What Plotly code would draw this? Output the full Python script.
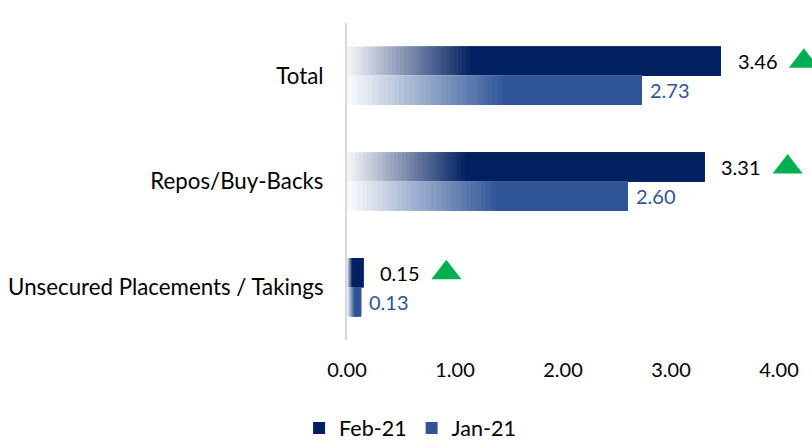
import plotly.graph_objects as go

categories = ["Total", "Repos/Buy-Backs", "Unsecured Placements / Takings"]
feb_values = [3.46, 3.31, 0.15]
jan_values = [2.73, 2.60, 0.13]
series_names = ["Feb-21", "Jan-21"]
x_ticks = [0, 1, 2, 3, 4]

FONT = "Lato"
FEB_COLOR = (0, 32, 96)
JAN_COLOR = (47, 85, 151)
FEB_START = (242, 243, 246)
JAN_START = (248, 249, 252)
N_STEPS = 30
BAR_W = 0.275

W, H = 812, 440
L, T, B = 347, 23, 100
PLOT_X4 = 779  # pixel of x = 4
X_MAX = 4
x_range_max = X_MAX * (W - L) / (PLOT_X4 - L)


def mix(a, b, t):
    return "rgb(%d,%d,%d)" % tuple(round(a[i] + (b[i] - a[i]) * t) for i in range(3))


fig = go.Figure()
ypos = list(range(len(categories)))


def add_gradient_bar(values, start, end, grad_frac, offset, name):
    for k in range(N_STEPS + 1):
        t = min(k / N_STEPS, 1.0)
        bases = [v * grad_frac * t for v in values]
        lengths = [v - b for v, b in zip(values, bases)]
        col = mix(start, end, k / N_STEPS)
        fig.add_trace(go.Bar(
            y=ypos, x=lengths, base=bases, orientation="h",
            width=BAR_W, offset=offset,
            marker=dict(color=col, line=dict(width=0)),
            name=name, legendgroup=name, showlegend=(k == N_STEPS),
            hoverinfo="skip",
        ))


add_gradient_bar(feb_values, FEB_START, FEB_COLOR, 0.33, -BAR_W, series_names[0])
add_gradient_bar(jan_values, JAN_START, JAN_COLOR, 0.53, 0.0, series_names[1])

# green up-triangles next to Feb labels
fig.add_trace(go.Scatter(
    x=[v + 0.77 for v in feb_values], y=[p - BAR_W / 2 for p in ypos],
    mode="markers",
    marker=dict(symbol="triangle-up", size=26, color="#00B050"),
    showlegend=False, cliponaxis=False, hoverinfo="skip",
))

for p, v in zip(ypos, feb_values):
    fig.add_annotation(x=v, y=p - BAR_W / 2, text=f"{v:.2f}", showarrow=False,
                       xanchor="left", xshift=15, font=dict(family=FONT, size=20, color="#000000"))
for p, v in zip(ypos, jan_values):
    fig.add_annotation(x=v, y=p + BAR_W / 2, text=f"{v:.2f}", showarrow=False,
                       xanchor="left", xshift=6, font=dict(family=FONT, size=20, color="#2F5597"))

fig.update_layout(
    width=W, height=H,
    margin=dict(l=L, r=0, t=T, b=B, autoexpand=False),
    paper_bgcolor="white", plot_bgcolor="white",
    barmode="overlay",
    font=dict(family=FONT, size=20, color="#000000"),
    xaxis=dict(range=[0, x_range_max], tickvals=x_ticks,
               ticktext=[f"{t:.2f}" for t in x_ticks],
               showgrid=False, zeroline=False, showline=False, automargin=False,
               ticks="outside", ticklen=12, tickcolor="rgba(0,0,0,0)",
               tickfont=dict(family=FONT, size=20, color="#000000")),
    yaxis=dict(range=[2.5, -0.5], tickvals=ypos, ticktext=categories, automargin=False,
               showgrid=False, zeroline=False, showline=True, linecolor="#D9D9D9", linewidth=2,
               ticks="outside", ticklen=17, tickcolor="rgba(0,0,0,0)",
               tickfont=dict(family=FONT, size=22.3, color="#000000")),
    legend=dict(orientation="h", xref="container", yref="container", x=0.505, y=0.027,
                xanchor="center", yanchor="middle", font=dict(family=FONT, size=21.5),
                traceorder="normal"),
    showlegend=True,
)

fig.write_html("out.html", config={"displayModeBar": False},
               post_script="document.body.style.margin='0px';")
